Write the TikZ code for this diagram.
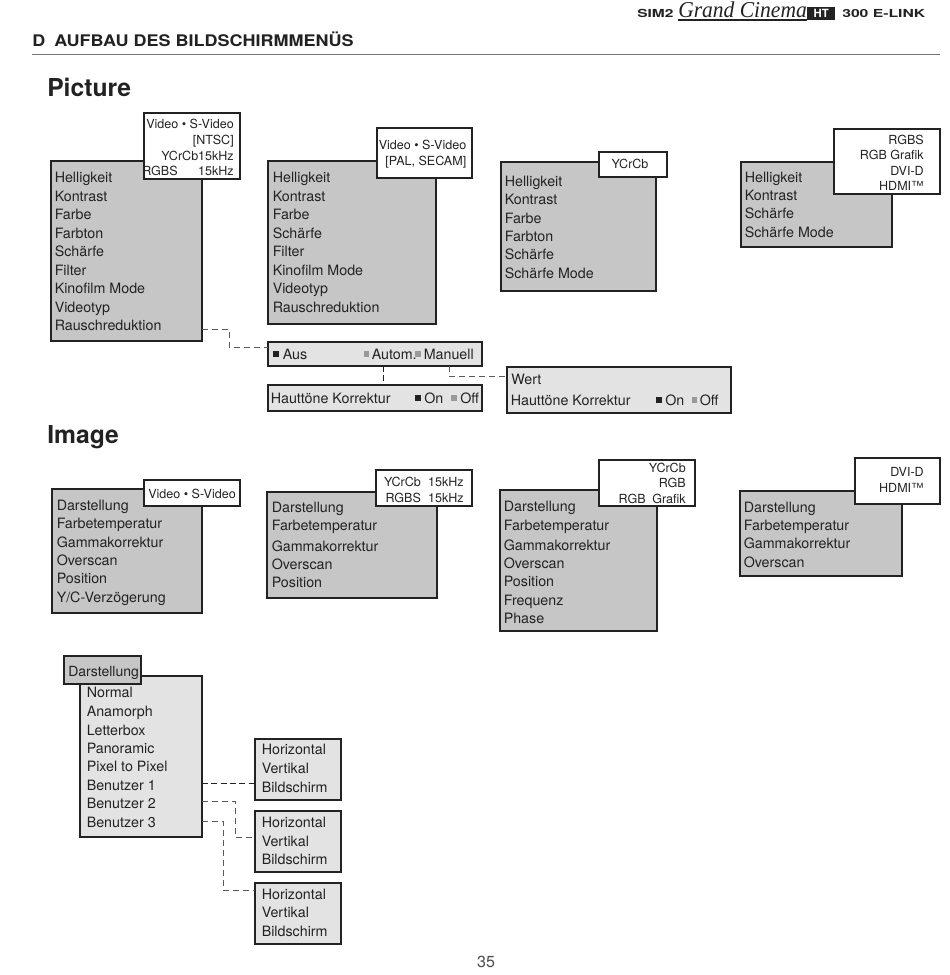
\documentclass[tikz,border=0pt]{standalone}
\usepackage{fontspec}
\setmainfont{TeX Gyre Heros}
\newfontfamily\logoserif{Liberation Serif}
\definecolor{grayfill}{HTML}{C6C6C6}
\definecolor{lightfill}{HTML}{E3E3E3}
\definecolor{inkdark}{HTML}{222222}
\definecolor{midsq}{HTML}{999999}
\tikzset{
 x=.75pt,y=-.75pt,
 boxbase/.style={draw=inkdark,line width=1.6pt,inner sep=0,outer sep=0,anchor=north west},
 graybox/.style={boxbase,fill=grayfill},
 lightbox/.style={boxbase,fill=lightfill},
 tagbox/.style={boxbase,fill=white,line width=.9pt},
 rowtext/.style={inner sep=0,anchor=base west,text=inkdark,font=\fontsize{10.7}{12}\selectfont},
 tagtext/.style={inner sep=0,anchor=base east,text=inkdark,font=\fontsize{9.4}{11}\selectfont},
 tagmid/.style={inner sep=0,anchor=base,text=inkdark,font=\fontsize{9.4}{11}\selectfont},
 heading/.style={inner sep=0,anchor=base west,text=inkdark,font=\fontsize{18.5}{20}\selectfont\bfseries},
 conn/.style={draw=inkdark,line width=.75pt,dash pattern=on 4.5pt off 2.5pt},
 connlight/.style={draw=black!65,line width=.7pt,dash pattern=on 4.5pt off 3pt},
 sqdark/.style={fill=inkdark,inner sep=0,minimum size=4pt,outer sep=0},
 sqmid/.style={fill=midsq,inner sep=0,minimum size=4pt,outer sep=0},
}
% \mybox{style}{name}{x1}{y1}{x2}{y2}
\newcommand{\mybox}[6]{\node[#1,minimum width={(#5-#3)*.75pt},minimum height={(#6-#4)*.75pt}] (#2) at (#3,#4) {};}
% \myrows{style}{name}{x}{y/text list}
\newcommand{\myrows}[4]{\foreach \yy/\tt [count=\ii] in {#4} {\node[#1] (#2-\ii) at (#3,\yy+5) {\tt};}}
\begin{document}
\begin{tikzpicture}
\useasboundingbox (0,0) rectangle (950,975);
\fill[white] (0,0) rectangle (950,975);
% header
\node[inner sep=0,anchor=base west,font=\fontsize{8.3}{9}\selectfont\bfseries,text=inkdark] (sim) at (637,17) {\scalebox{1.4}[1]{SIM2}};
\node[inner sep=0,anchor=base west,font=\fontsize{17}{18}\selectfont\logoserif\itshape,text=inkdark] (grand) at (678,17.5) {\scalebox{.95}[1]{Grand Cinema}};
\node[anchor=north west,fill=inkdark,text=white,inner sep=0,minimum width=21pt,minimum height=10pt,font=\fontsize{8.5}{9}\selectfont\bfseries] (ht) at (807,6.5) {HT};
\draw[inkdark,line width=.8pt] (678,20) -- (ht.west |- 0,20);
\node[inner sep=0,anchor=base west,font=\fontsize{8.3}{9}\selectfont\bfseries,text=inkdark] (elink) at (842,17) {\scalebox{1.42}[1]{300 E-LINK}};
\node[inner sep=0,anchor=base west,font=\fontsize{12}{13}\selectfont\bfseries,text=inkdark] (title) at (32,46) {\scalebox{1.125}[1]{D\hspace{6pt}AUFBAU DES BILDSCHIRMMENÜS}};
\coordinate (ruleL) at (32,54.5);
\coordinate (ruleR) at (940,54.5);
\draw[black!55,line width=.7pt] (ruleL) -- (ruleR);
\node[heading] (hpic) at (47,96) {Picture};
\node[heading] (himg) at (47,443) {Image};
% Picture boxes
\mybox{graybox}{p1}{51}{161}{202}{341}
\myrows{rowtext}{p1t}{54.5}{177/Helligkeit,196/Kontrast,214/Farbe,233/Farbton,251/Schärfe,270/Filter,288/Kinofilm Mode,307/Videotyp,325/Rauschreduktion}
\mybox{tagbox}{p1l}{144}{113}{240}{179}
\myrows{tagtext}{p1lt}{234}{123/Video • S-Video,139/{[NTSC]},155/YCrCb15kHz,170/15kHz}
\node[inner sep=0,anchor=base west,text=inkdark,font=\fontsize{9.4}{11}\selectfont] (p1rgbs) at (142,175) {RGBS};
\mybox{graybox}{p2}{268}{161}{436}{324}
\myrows{rowtext}{p2t}{272.5}{177/Helligkeit,196/Kontrast,214/Farbe,233/Schärfe,251/Filter,270/Kinofilm Mode,288/Videotyp,307/Rauschreduktion}
\mybox{tagbox}{p2l}{377}{128}{472}{178}
\myrows{tagtext}{p2lt}{466.5}{144/Video • S-Video,160/{[PAL, SECAM]}}
\mybox{graybox}{p3}{501}{162}{656}{291}
\myrows{rowtext}{p3t}{504.5}{181/Helligkeit,199/Kontrast,218/Farbe,236/Farbton,254/Schärfe,273/Schärfe Mode}
\mybox{tagbox}{p3l}{599}{152}{667}{177}
\node[tagmid] (p3lt) at (630,168) {YCrCb};
\mybox{graybox}{p4}{741}{162}{892}{247}
\myrows{rowtext}{p4t}{744.5}{177/Helligkeit,195/Kontrast,213/Schärfe,232/Schärfe Mode}
\mybox{tagbox}{p4l}{834}{129}{940}{194}
\myrows{tagtext}{p4lt}{924}{139/RGBS,154/RGB Grafik,170/DVI-D,185/HDMI™}
% Option boxes
\mybox{lightbox}{oa}{268}{342}{482}{366}
\node[sqdark] (oas1) at (276,354) {};
\node[rowtext] (oa1) at (282.5,359) {Aus};
\node[sqmid] (oas2) at (366.5,354) {};
\node[rowtext] (oa2) at (371.5,359) {Autom.};
\node[sqmid] (oas3) at (418,354) {};
\node[rowtext] (oa3) at (423.5,359) {Manuell};
\mybox{lightbox}{ob}{268}{385}{482}{411}
\node[rowtext] (ob1) at (270.5,403) {Hauttöne Korrektur};
\node[sqdark] (obs1) at (418,398) {};
\node[rowtext] (ob2) at (424,403) {On};
\node[sqmid] (obs2) at (454,398) {};
\node[rowtext] (ob3) at (460,403) {Off};
\mybox{lightbox}{oc}{507}{367}{731}{413}
\node[rowtext] (oc1) at (511,384) {Wert};
\node[rowtext] (oc2) at (510.5,405) {Hauttöne Korrektur};
\node[sqdark] (ocs1) at (659,400) {};
\node[rowtext] (oc3) at (665,405) {On};
\node[sqmid] (ocs2) at (694.5,400) {};
\node[rowtext] (oc4) at (699.5,405) {Off};
% Image boxes
\mybox{graybox}{i1}{52}{489}{202}{613}
\myrows{rowtext}{i1t}{56.5}{505/Darstellung,523/Farbetemperatur,542/Gammakorrektur,560/Overscan,578/Position,597/{Y/C-Verzögerung}}
\mybox{tagbox}{i1l}{144}{480}{240}{506}
\node[tagmid] (i1lt) at (192,498) {Video • S-Video};
\mybox{graybox}{i2}{267}{492}{437}{598}
\myrows{rowtext}{i2t}{271.5}{507/Darstellung,525/Farbetemperatur,546/Gammakorrektur,564/Overscan,582/Position}
\mybox{tagbox}{i2l}{376}{470}{472}{506}
\myrows{tagtext}{i2lt}{464}{481/YCrCb\hspace{5.5pt}15kHz,497/RGBS\hspace{5.5pt}15kHz}
\mybox{graybox}{i3}{500}{490}{657}{631}
\myrows{rowtext}{i3t}{503.5}{506/Darstellung,525/Farbetemperatur,545/Gammakorrektur,563/Overscan,581/Position,600/Frequenz,618/Phase}
\mybox{tagbox}{i3l}{599}{460}{695}{506}
\myrows{tagtext}{i3lt}{686}{467/YCrCb,482/RGB,498/RGB\hspace{5pt}Grafik}
\mybox{graybox}{i4}{740}{491}{902}{576}
\myrows{rowtext}{i4t}{743.5}{507/Darstellung,525/Farbetemperatur,543/Gammakorrektur,562/Overscan}
\mybox{tagbox}{i4l}{855}{458}{940}{504}
\myrows{tagtext}{i4lt}{924}{471/DVI-D,487/HDMI™}
% Darstellung
\mybox{lightbox}{d}{80}{676}{202}{837}
\myrows{rowtext}{dt}{86.5}{692/Normal,711/Anamorph,730/Letterbox,748/Panoramic,766/Pixel to Pixel,785/Benutzer 1,803/Benutzer 2,822/Benutzer 3}
\mybox{graybox}{dh}{64}{656}{141}{684}
\node[inner sep=0,anchor=base west,text=inkdark,font=\fontsize{10.5}{12}\selectfont] (dht) at (68,676) {Darstellung};
\mybox{lightbox}{s1}{255}{739}{341}{800}
\myrows{rowtext}{s1t}{261.5}{749/Horizontal,768/Vertikal,787/Bildschirm}
\mybox{lightbox}{s2}{255}{811}{341}{872}
\myrows{rowtext}{s2t}{261.5}{822/Horizontal,841/Vertikal,859/Bildschirm}
\mybox{lightbox}{s3}{255}{883}{341}{944}
\myrows{rowtext}{s3t}{261.5}{894/Horizontal,912/Vertikal,931/Bildschirm}
% connectors
\draw[connlight] (p1.east |- 0,329) -- (229,329) -- (229,347) -- (oa.west |- 0,347);
\draw[conn] (oa.south -| 383,0) -- (ob.north -| 383,0);
\draw[connlight] (oa.south -| 449,0) -- (449,376) -- (oc.west |- 0,376);
\draw[conn] (d.east |- 0,783) -- (s1.west |- 0,783);
\draw[connlight] (d.east |- 0,801) -- (235,801) -- (235,837) -- (s2.west |- 0,837);
\draw[connlight] (d.east |- 0,821) -- (223,821) -- (223,890) -- (s3.west |- 0,890);
\node[inner sep=0,anchor=base,text=black!70,font=\fontsize{12}{14}\selectfont] (pageno) at (486,967) {35};
\end{tikzpicture}
\end{document}
